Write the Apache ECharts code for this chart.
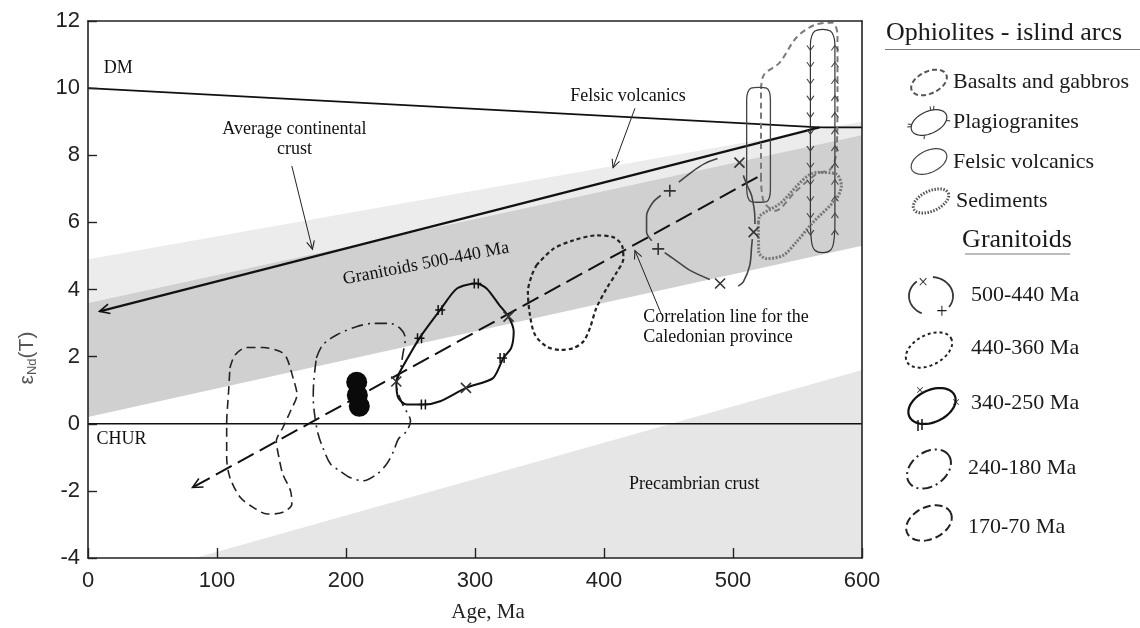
<!DOCTYPE html>
<html><head><meta charset="utf-8">
<script src="https://cdn.jsdelivr.net/npm/echarts@6/dist/echarts.min.js"></script>
<style>html,body{margin:0;padding:0;background:#fff}#c{width:1140px;height:628px}</style>
</head><body><div id="c"></div>
<script>
// ---------- axes ----------
const xRange = [0, 600];
const yRange = [-4, 12];

// ---------- shaded bands (age Ma, eNd) ----------
const lightBand = [[0,3.6],[0,4.9],[600,9.0],[600,8.6]];
const granitoidBand = [[0,0.2],[0,3.6],[600,8.6],[600,5.3]];
const precambrianBand = [[83,-4],[600,1.6],[600,-4]];

// ---------- reference lines ----------
const dmLine = [[0,10],[567,8.83],[600,8.83]];
const churLine = [[0,0],[600,0]];
const crustLine = [[567,8.83,9,3.35]];                 // arrow: from -> to
const correlationLine = [[519,7.35,81,-1.9]];
const pointerArrows = [[158,7.68,174,5.2],[424,9.4,407,7.63],[444.7,3.24,424,5.16]];

// ---------- granitoid fields ----------
const field170_70 = [[110,1.66],[114,2.05],[123,2.27],[136,2.27],[149,2.15],[154,1.96],[159,1.36],[162,0.87],[157,0.38],[151,-0.12],[146,-0.51],[148,-1.0],[151,-1.5],[157,-2.0],[158,-2.39],[151,-2.64],[139,-2.69],[128,-2.49],[118,-2.19],[110,-1.6],[107.5,-1.0],[107.5,-0.02],[109,0.97],[110,1.66]];
const field240_180 = [[177,1.96],[182,2.35],[193,2.65],[208,2.89],[221,2.99],[234,2.99],[242,2.84],[246,2.55],[244,2.05],[242,1.56],[239,1.16],[244,0.57],[250,0.08],[247,-0.22],[240.5,-0.46],[237,-0.81],[231.5,-1.2],[224,-1.5],[213,-1.7],[203,-1.6],[195,-1.4],[188,-1.2],[182,-0.71],[178.5,-0.32],[176,0.18],[174.6,0.77],[175,1.26],[177,1.96]];
const field340_250 = [[240.5,1.46],[257,2.55],[273,3.39],[286,4.03],[301,4.18],[309,4.03],[319,3.53],[326,3.19],[330,2.75],[328,2.25],[322,1.96],[314,1.36],[293,1.07],[273,0.67],[260,0.57],[247,0.57],[240.5,0.77],[239,1.26],[240.5,1.46]];
const field440_360 = [[347.6,4.72],[360.7,5.21],[376,5.46],[394,5.61],[407,5.56],[414,5.31],[415,4.92],[410,4.52],[402,4.03],[394,3.44],[389,2.84],[384,2.45],[376,2.25],[366,2.2],[355.6,2.3],[346.5,2.65],[342.6,3.24],[341,3.93],[344,4.42],[347.6,4.72]];
const field500_440_segA = [[437,5.45],[433,5.71],[433,6.2],[438,6.6],[444,6.8]];
const field500_440_segB = [[458,7.2],[468,7.5],[478,7.75],[488,7.9]];
const field500_440_segC = [[508,7.4],[511,7.1],[514.5,6.79],[517,6.1],[517,5.95]];
const field500_440_segD = [[515,5.5],[514.5,5.31],[513,4.72],[508,4.23],[504,4.1]];
const field500_440_segE = [[482,4.3],[466.7,4.57],[453.7,4.92],[447,5.1]];

// ---------- ophiolite fields ----------
const basaltsGabbros = [[521.7,7.3],[521.7,9.9],[524,10.4],[536,10.75],[549,11.5],[563,11.88],[577,11.95],[581,11.6],[581,10],[580.5,8.2],[576,7.6],[565,7.45],[548,6.9],[533,6.35],[524,6.6],[521.7,7.3]];
const plagiogranites = [[560,6.0],[560,11.3],[561,11.55],[563.5,11.7],[569.5,11.75],[575.5,11.7],[578,11.55],[579,11.3],[579,6.0],[578,5.4],[575.5,5.17],[569.5,5.1],[563.5,5.17],[561,5.4],[560,6.0]];
const felsicVolcanics = [[510.6,7.0],[510.6,9.65],[511.5,9.88],[514,10.0],[520,10.02],[526,10.0],[528.3,9.88],[529,9.65],[529,7.0],[528.3,6.75],[526,6.62],[520,6.6],[514,6.62],[511.5,6.75],[510.6,7.0]];
const sediments = [[519.7,6.0],[521,6.2],[536,6.55],[565,7.49],[580,7.44],[584,7.09],[580,6.7],[562,6.0],[549,5.41],[539,5.02],[526,4.92],[520,5.12],[519.7,6.0]];

// ---------- marks on outlines ----------
const crossMarks = [[505,7.78],[516,5.71],[490,4.18],[239,1.26],[326,3.19],[293,1.07]];
const plusMarks = [[442,5.21],[451,6.94]];
const hashMarks = [[257,2.55],[273,3.39],[301,4.18],[321,1.96],[260,0.57]];
const plagioLeftTicks = [[560,5.7],[560,6.2],[560,6.7],[560,7.2],[560,7.7],[560,8.2],[560,8.7],[560,9.2],[560,9.7],[560,10.2],[560,10.7],[560,11.2]];
const plagioRightTicks = [[579,5.7],[579,6.2],[579,6.7],[579,7.2],[579,7.7],[579,8.2],[579,8.7],[579,9.2],[579,9.7],[579,10.2],[579,10.7],[579,11.2]];

// ---------- filled samples ----------
const samples = [[208.3,1.24],[208.8,0.85],[210.3,0.52]];

// ---------- annotations ----------
const annotations = [
  {text:'DM', at:[23.5,10.6]},
  {text:'CHUR', at:[26,-0.46]},
  {text:'Average continental\ncrust', at:[160,8.47]},
  {text:'Felsic volcanics', at:[418.6,9.75]},
  {text:'Granitoids 500-440 Ma', at:[262,4.77], rotate:10.9},
  {text:'Correlation line for the\nCaledonian province', at:[430.5,2.87], align:'left'},
  {text:'Precambrian crust', at:[470,-1.8]}
];

const ophioliteLegend = ['Basalts and gabbros','Plagiogranites','Felsic volcanics','Sediments'];
const granitoidLegend = ['500-440 Ma','440-360 Ma','340-250 Ma','240-180 Ma','170-70 Ma'];

// ================= build =================
const SERIF = '"Liberation Serif", "Times New Roman", serif';
const SANS = '"Liberation Sans", Arial, sans-serif';

function polySeries(name, pts, fill, z) {
  return {type:'custom', name, silent:true, z, data: pts, encode:{x:0,y:1},
    renderItem(params, api){
      if (params.dataIndex !== 0) return null;
      return {type:'polygon', shape:{points: pts.map(p => api.coord(p))}, style:{fill, stroke:null}};
    }};
}
function arrowSeries(name, segs, stroke, width, dash, head, z) {
  return {type:'custom', name, silent:true, z, data: segs, encode:{x:[0,2], y:[1,3]},
    renderItem(params, api){
      const a = api.coord([api.value(0), api.value(1)]);
      const b = api.coord([api.value(2), api.value(3)]);
      const ang = Math.atan2(b[1]-a[1], b[0]-a[0]);
      const phi = 0.45;
      const p1 = [b[0]-head*Math.cos(ang-phi), b[1]-head*Math.sin(ang-phi)];
      const p2 = [b[0]-head*Math.cos(ang+phi), b[1]-head*Math.sin(ang+phi)];
      return {type:'group', children:[
        {type:'line', shape:{x1:a[0],y1:a[1],x2:b[0],y2:b[1]}, style:{stroke, lineWidth:width, lineDash:dash}},
        {type:'polyline', shape:{points:[p1,b,p2]}, style:{stroke, lineWidth:Math.max(1.1,width*0.75), fill:null}}
      ]};
    }};
}
function outline(name, data, color, width, type, smooth, z) {
  return {type:'line', name, data, smooth: smooth, symbol:'none', silent:true, z: z||3,
    lineStyle:{color, width, type}, animation:false};
}
function marks(name, data, path, size, color, width) {
  return {type:'scatter', name, data, symbol: path, symbolSize: size, silent:true, z:5,
    itemStyle:{color:'rgba(0,0,0,0)', borderColor: color, borderWidth: width, opacity:1}};
}

const series = [
  polySeries('precambrian', precambrianBand, '#e6e6e6', 1),
  polySeries('light', lightBand, '#ececec', 1),
  polySeries('granitoids', granitoidBand, '#d0d0d0', 1),
  outline('DM', dmLine, '#111', 1.6, 'solid', false, 2),
  outline('CHUR', churLine, '#111', 1.6, 'solid', false, 2),
  arrowSeries('crust', crustLine, '#111', 2.2, null, 11, 3),
  arrowSeries('correlation', correlationLine, '#111', 2, [18,7], 11, 3),
  arrowSeries('pointers', pointerArrows, '#222', 1, null, 9, 3),
  outline('170-70', field170_70, '#222', 1.6, [9,5], 0.3),
  outline('240-180', field240_180, '#222', 1.6, [12,5,2,5], 0.3),
  outline('340-250', field340_250, '#111', 2, 'solid', 0.25),
  outline('440-360', field440_360, '#222', 2.2, [4,3], 0.3),
  outline('500-440a', field500_440_segA, '#444', 1.6, 'solid', 0.3),
  outline('500-440b', field500_440_segB, '#444', 1.6, 'solid', 0.3),
  outline('500-440c', field500_440_segC, '#444', 1.6, 'solid', 0.3),
  outline('500-440d', field500_440_segD, '#444', 1.6, 'solid', 0.3),
  outline('500-440e', field500_440_segE, '#444', 1.6, 'solid', 0.3),
  outline('basalts', basaltsGabbros, '#7a7a7a', 2, [6,4], 0.3),
  outline('plagio', plagiogranites, '#333', 1.2, 'solid', 0.3),
  outline('felsic', felsicVolcanics, '#444', 1.3, 'solid', 0.3),
  outline('sediments', sediments, '#777', 3, [2,1.5], 0.3),
  marks('cross', crossMarks, 'path://M0,0 L10,10 M10,0 L0,10', 10, '#333', 1.6),
  marks('plus', plusMarks, 'path://M5,0 L5,10 M0,5 L10,5', 12, '#333', 1.6),
  marks('hash', hashMarks, 'path://M3,0 L3,10 M7,0 L7,10 M0,5 L10,5', 10, '#111', 1.5),
  marks('plagioL', plagioLeftTicks, 'path://M0,0 L4,5 L8,0', [7,5], '#444', 1),
  marks('plagioR', plagioRightTicks, 'path://M0,5 L4,0 L8,5', [7,5], '#444', 1),
  {type:'scatter', name:'samples', data: samples, symbol:'circle', symbolSize:21, silent:true, z:6,
    itemStyle:{color:'#0a0a0a', opacity:1}},
  {type:'scatter', name:'annotations', silent:true, z:7, symbolSize:1,
    itemStyle:{color:'rgba(0,0,0,0)', opacity:1},
    data: annotations.map(a => ({value:a.at, label:{formatter:a.text, rotate:a.rotate||0, align:a.align||'center'}})),
    label:{show:true, position:'inside', fontFamily:SERIF, fontSize:18, color:'#111', opacity:1, lineHeight:20, verticalAlign:'middle'}}
];

// ---------- legend graphics (decorative icons) ----------
function ell(cx, cy, rx, ry, rotDeg, a0, a1, n) {
  a0 = a0 === undefined ? 0 : a0; a1 = a1 === undefined ? 360 : a1; n = n || 60;
  const r = rotDeg*Math.PI/180, pts = [];
  for (let i = 0; i <= n; i++) {
    const t = (a0 + (a1-a0)*i/n)*Math.PI/180;
    const x = rx*Math.cos(t), y = ry*Math.sin(t);
    pts.push([cx + x*Math.cos(r) - y*Math.sin(r), cy + x*Math.sin(r) + y*Math.cos(r)]);
  }
  return pts;
}
function pl(points, stroke, w, dash) {
  return {type:'polyline', shape:{points}, style:{stroke, lineWidth:w, lineDash:dash||null, fill:null}, silent:true};
}
function txt(x, y, text, size, align) {
  return {type:'text', x, y, silent:true, style:{text, font: size+'px '+SERIF, fill:'#1a1a1a',
    align: align||'left', verticalAlign:'middle', textAlign: align||'left', textVerticalAlign:'middle'}};
}
const g = [];
g.push(txt(886, 33, 'Ophiolites - islind arcs', 26));
g.push({type:'line', shape:{x1:885,y1:49.5,x2:1140,y2:49.5}, style:{stroke:'#777', lineWidth:1}, silent:true});
const ophY = [82, 122, 162, 201];
ophioliteLegend.forEach((t,i) => g.push(txt(i===3?956:953, ophY[i], t, 22)));
g.push(pl(ell(929,82.5,19,11,-25), '#555', 2, [5,3]));
g.push(pl(ell(929,122.5,19,11,-25), '#333', 1.2));
[[-150],[-60],[30],[120],[200],[290]].forEach(a => {
  const p = ell(929,122.5,19,11,-25,a[0],a[0],1)[0];
  const q = ell(929,122.5,23,15,-25,a[0],a[0],1)[0];
  g.push(pl([p,q], '#333', 1));
});
g.push(pl(ell(929,161.5,19,11,-25), '#444', 1.2));
g.push(pl(ell(931,201,19,10,-25), '#555', 3, [1.5,1.5]));

g.push(txt(1017, 240, 'Granitoids', 26, 'center'));
g.push({type:'line', shape:{x1:965,y1:254,x2:1070,y2:254}, style:{stroke:'#777', lineWidth:1}, silent:true});
const graY = [295, 348, 403, 468, 527];
granitoidLegend.forEach((t,i) => g.push(txt(i>2?968:971, graY[i], t, 22)));
// 500-440 open loop
g.push(pl(ell(931,296,22,19,0,115,230), '#333', 1.8));
g.push(pl(ell(931,296,22,19,0,-85,35), '#333', 1.8));
g.push(txt(923, 283, '×', 18, 'center'));
g.push(txt(942, 313, '+', 20, 'center'));
// 440-360
g.push(pl(ell(929,350,25,15,-28), '#222', 2, [3,3]));
// 340-250
g.push(pl(ell(932,406,25,16,-25), '#111', 2.2));
g.push(txt(920, 391, '×', 15, 'center'));
g.push(txt(956, 403, '×', 15, 'center'));
g.push(pl([[918,420],[918,431]], '#111', 1.5));
g.push(pl([[922,419],[922,430]], '#111', 1.5));
// 240-180
g.push(pl(ell(929,469,24,17,-35), '#222', 2, [10,4,2,4]));
// 170-70
g.push(pl(ell(929,523,24,16,-25), '#222', 2, [8,4]));
// y axis title
g.push({type:'text', x:27, y:358, rotation:Math.PI/2, silent:true,
  style:{text:'{e|ε}{s|Nd}{e|(T)}', fill:'#555', align:'center', verticalAlign:'middle',
    textAlign:'center', textVerticalAlign:'middle',
    rich:{e:{fontFamily:SANS, fontSize:21, fill:'#555', color:'#555'}, s:{fontFamily:SANS, fontSize:13, fill:'#555', color:'#555', padding:[10,0,0,0]}}}});

const axisLine = {show:true, onZero:false, lineStyle:{color:'#222', width:1.6}};
const option = {
  animation:false,
  backgroundColor:'#fff',
  grid:{left:88, right:278, top:21, bottom:67},
  xAxis:[
    {type:'value', min:xRange[0], max:xRange[1], interval:100, position:'bottom', z:10,
      axisLine, axisTick:{show:true, inside:true, length:10, lineStyle:{color:'#222', width:1.4}},
      axisLabel:{fontFamily:SANS, fontSize:22, color:'#222', margin:12},
      splitLine:{show:false},
      name:'Age, Ma', nameLocation:'middle', nameGap:44,
      nameTextStyle:{fontFamily:SERIF, fontSize:21, color:'#222', padding:[0,0,0,26]}},
    {type:'value', min:xRange[0], max:xRange[1], position:'top', z:10,
      axisLine, axisTick:{show:false}, axisLabel:{show:false}, splitLine:{show:false}}
  ],
  yAxis:[
    {type:'value', min:yRange[0], max:yRange[1], interval:2, position:'left', z:10,
      axisLine, axisTick:{show:true, inside:true, length:9, lineStyle:{color:'#222', width:1.4}},
      axisLabel:{fontFamily:SANS, fontSize:22, color:'#222', margin:8},
      splitLine:{show:false}},
    {type:'value', min:yRange[0], max:yRange[1], position:'right', z:10,
      axisLine, axisTick:{show:false}, axisLabel:{show:false}, splitLine:{show:false}}
  ],
  graphic: g,
  series
};
const chart = echarts.init(document.getElementById('c'), null, {renderer:'canvas'});
chart.setOption(option);
</script>
</body></html>
